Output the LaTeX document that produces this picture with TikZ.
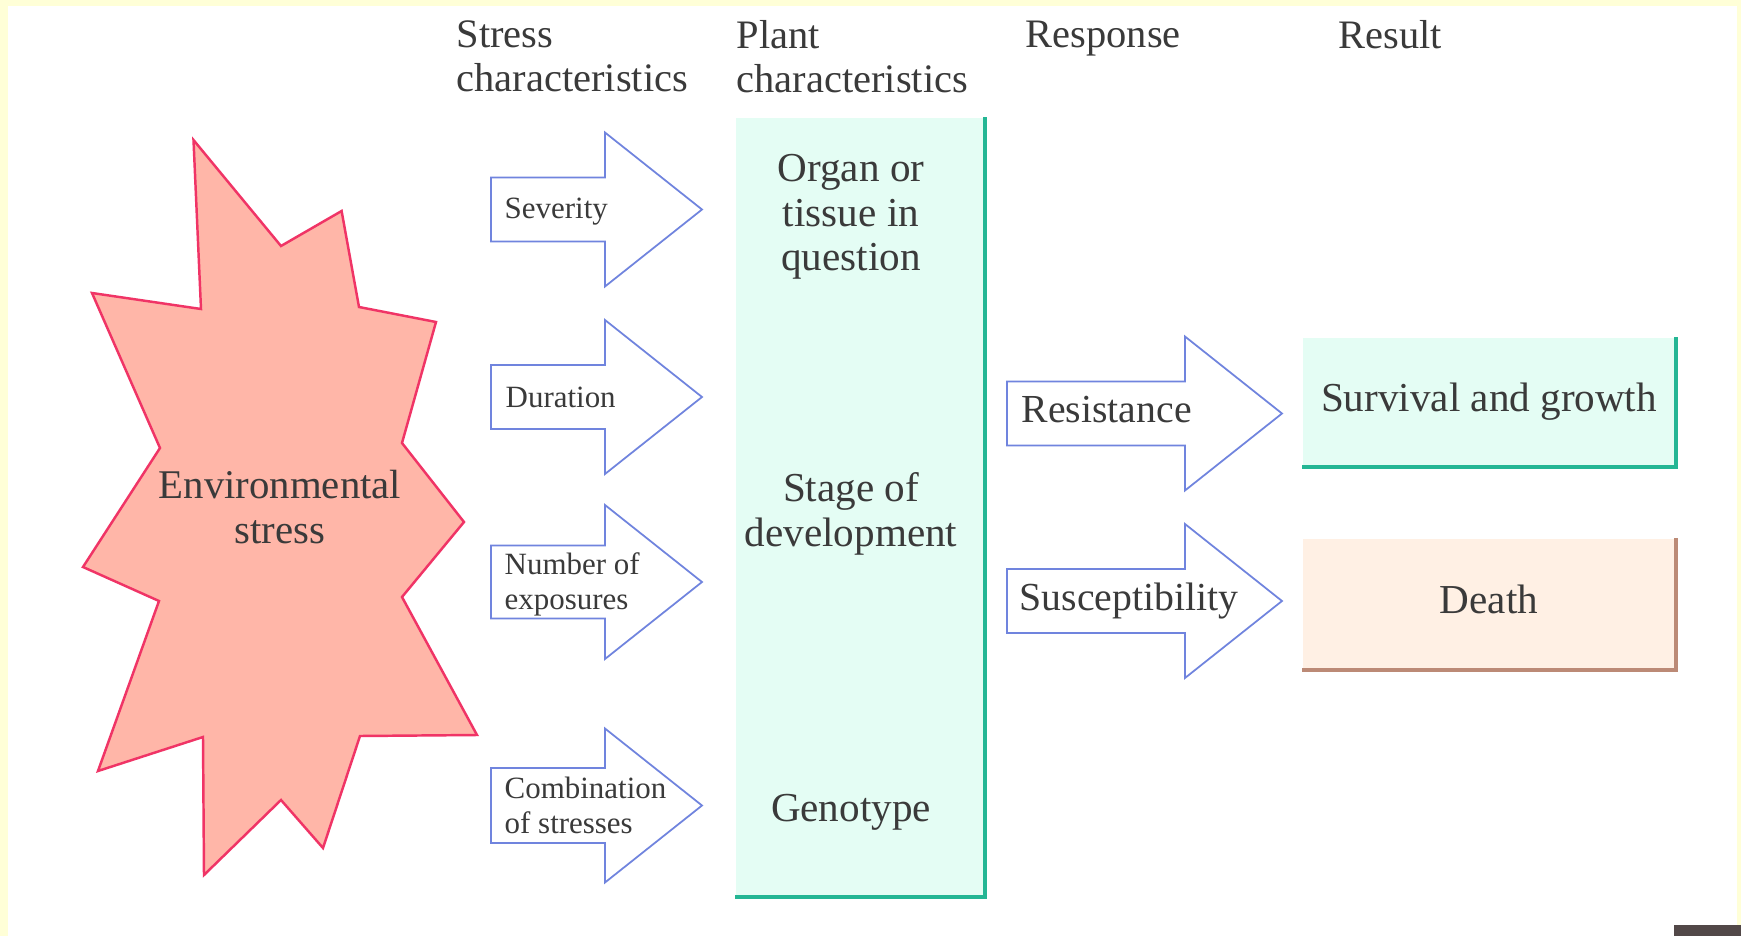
\documentclass[tikz,border=0pt]{standalone}
\usepackage{fontspec}
\setmainfont{Liberation Serif}
\usepackage{tikz}
\usetikzlibrary{positioning}
\usetikzlibrary{calc}

\definecolor{pageyellow}{RGB}{255,255,215}
\definecolor{cornergray}{RGB}{82,72,72}
\definecolor{textgray}{RGB}{58,58,58}
\definecolor{stressfill}{RGB}{255,182,168}
\definecolor{stressline}{RGB}{240,52,102}
\definecolor{arrowline}{RGB}{112,132,222}
\definecolor{mintfill}{RGB}{228,253,244}
\definecolor{mintline}{RGB}{36,182,148}
\definecolor{peachfill}{RGB}{255,240,228}
\definecolor{peachline}{RGB}{188,138,118}

\begin{document}
\begin{tikzpicture}[
                x=0.01cm, y=-0.01cm,
                every node/.style={
                        text=textgray,
                        inner sep=0pt
                    },
                headtext/.style={
                        anchor=north west,
                        align=left,
                        font=\fontsize{11.5}{12.4}\selectfont
                    },
                bigtext/.style={
                        align=center,
                        font=\fontsize{11.7}{12.6}\selectfont
                    },
                smalltext/.style={
                        anchor=west,
                        align=left,
                        font=\fontsize{8.8}{10}\selectfont
                    },
                responsetext/.style={
                        anchor=west,
                        font=\fontsize{11.3}{12.6}\selectfont
                    },
                blockarrow/.style={
                        draw=arrowline,
                        fill=white,
                        line width=0.5pt
                    },
                mintbox/.style={
                        fill=mintfill,
                        bigtext
                    },
                peachbox/.style={
                        fill=peachfill,
                        bigtext
                    }
            ]

            % Page background
            \useasboundingbox (0,0) rectangle (1741,936);
            \fill[pageyellow] (0,0) rectangle (1741,936);
            \fill[white] (8,6) rectangle (1737,936);
            \fill[cornergray] (1674,925) rectangle (1741,936);

            % Column headings
            \node[headtext] (stresshead) at (456,20) {Stress\\characteristics};
            \node[headtext] (planthead) at (736,20) {Plant\\characteristics};
            \node[headtext] (responsehead) at (1025,20) {Response};
            \node[headtext] (resulthead) at (1338,20) {Result};

            % Environmental stress burst
            \draw[fill=stressfill, draw=stressline, line width=0.7pt, line join=miter]
                (193.5,140) -- (281,246) -- (341.6,211) -- (359,307) -- (436,322)
                -- (402,443) -- (464,522) -- (402,597) -- (477,735) -- (360,736)
                -- (323,848) -- (281,800) -- (204,875) -- (203,737) -- (98,771)
                -- (159,601) -- (83,567) -- (160,448) -- (92,293) -- (201,309) -- cycle;
            \node[bigtext, font=\fontsize{11.6}{12.8}\selectfont] (stress) at (280,507) {Environmental\\stress};

            % Stress characteristic arrows
            \foreach \cy/\hb in {209.5/32, 397/32, 582/36.5, 805.5/37.5}
                \draw[blockarrow] (491,\cy-\hb) -- (605,\cy-\hb) -- (605,\cy-77) -- (702,\cy)
                    -- (605,\cy+77) -- (605,\cy+\hb) -- (491,\cy+\hb) -- cycle;
            \node[smalltext] (severity) at (504,211.5) {Severity};
            \node[smalltext] (duration) at (505,397) {Duration};
            \node[smalltext] (exposures) at (504,584) {Number of\\exposures};
            \node[smalltext] (combination) at (504,805.5) {Combination\\of stresses};

            % Plant characteristics column
            \node[fill=mintfill, minimum width=2.48cm, minimum height=7.78cm] (plant) at (860,507) {};
            \draw[mintline, line width=1.15pt] (plant.north east) -- (plant.south east) -- (plant.south west);
            \node[bigtext] (organ) at (851,217) {Organ or\\tissue in\\question};
            \node[bigtext] (stage) at (851,514) {Stage of\\development};
            \node[bigtext] (genotype) at (851,812) {Genotype};

            % Response arrows
            \foreach \cy in {413.5, 601}
                \draw[blockarrow] (1007,\cy-32) -- (1185,\cy-32) -- (1185,\cy-77) -- (1282,\cy)
                    -- (1185,\cy+77) -- (1185,\cy+32) -- (1007,\cy+32) -- cycle;
            \node[responsetext] (resistance) at (1021,410) {Resistance};
            \node[responsetext] (susceptibility) at (1019,601) {Susceptibility};

            % Result boxes
            \node[mintbox, minimum width=3.72cm, minimum height=1.28cm] (survival) at (1489,402) {Survival and growth};
            \draw[mintline, line width=1.15pt] (survival.north east) -- (survival.south east) -- (survival.south west);
            \node[peachbox, minimum width=3.72cm, minimum height=1.30cm] (death) at (1489,604) {};
            \draw[peachline, line width=1.15pt] (death.north east) -- (death.south east) -- (death.south west);
            \node[bigtext] (deathtext) at (1489,599) {Death};

        \end{tikzpicture}
\end{document}
